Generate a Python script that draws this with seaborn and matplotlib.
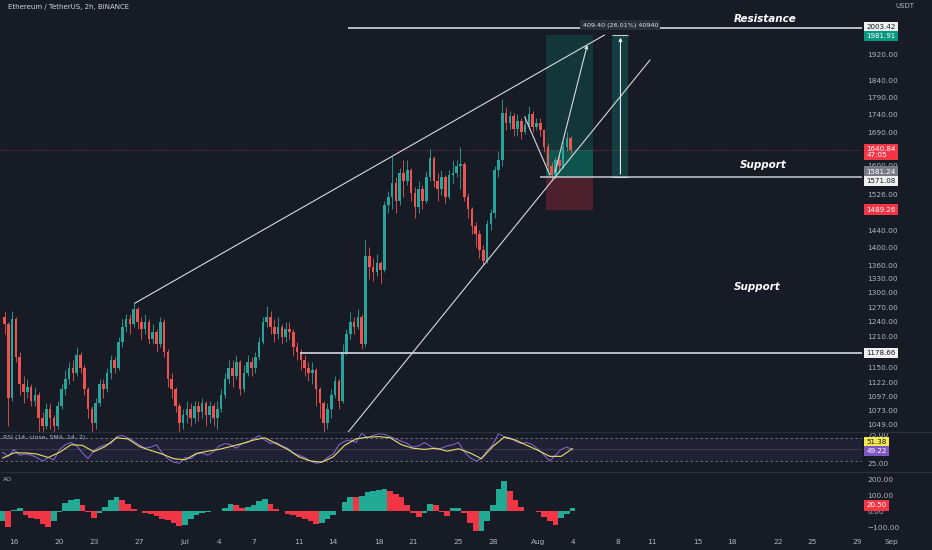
import numpy as np
import pandas as pd
import seaborn as sns
import matplotlib.pyplot as plt
from matplotlib.ticker import FixedLocator, NullLocator
from matplotlib.patches import Rectangle

# ETH/USDT, 8h candles from Jun 15 (day 0) to Aug 3 (day 49)
first_open = 1250
closes = [1235, 1095, 1245, 1170, 1120, 1105, 1115, 1090, 1100, 1060, 1045, 1075,
          1060, 1045, 1080, 1110, 1130, 1150, 1140, 1175, 1150, 1110, 1075, 1050,
          1085, 1120, 1110, 1140, 1165, 1150, 1200, 1230, 1245, 1235, 1265, 1240,
          1225, 1240, 1205, 1220, 1195, 1240, 1180, 1130, 1110, 1080, 1050, 1065,
          1075, 1060, 1080, 1070, 1085, 1065, 1080, 1060, 1075, 1100, 1130, 1150,
          1135, 1160, 1110, 1140, 1160, 1150, 1170, 1200, 1240, 1250, 1230, 1215,
          1230, 1210, 1225, 1220, 1190, 1180, 1165, 1150, 1140, 1145, 1110, 1085,
          1050, 1075, 1100, 1125, 1090, 1180, 1215, 1240, 1230, 1250, 1195, 1380,
          1355, 1345, 1365, 1350, 1500, 1520, 1555, 1510, 1580, 1560, 1590, 1530,
          1495, 1540, 1510, 1570, 1620, 1560, 1540, 1570, 1520, 1575, 1580, 1600,
          1605, 1520, 1490, 1450, 1430, 1395, 1370, 1455, 1480, 1590, 1615, 1745,
          1715, 1735, 1700, 1720, 1690, 1710, 1740, 1705, 1715, 1695, 1650, 1600,
          1575, 1615, 1600, 1650, 1675, 1640.84]
highs = [1262, 1240, 1262, 1250, 1180, 1135, 1130, 1120, 1115, 1105, 1070, 1085,
         1085, 1065, 1090, 1120, 1145, 1160, 1165, 1190, 1180, 1155, 1115, 1080,
         1095, 1130, 1130, 1150, 1175, 1170, 1210, 1245, 1255, 1255, 1280, 1270,
         1250, 1255, 1245, 1235, 1225, 1250, 1245, 1185, 1140, 1115, 1085, 1075,
         1090, 1085, 1090, 1090, 1095, 1090, 1090, 1085, 1090, 1110, 1140, 1165,
         1165, 1175, 1165, 1155, 1175, 1170, 1180, 1210, 1250, 1272, 1262, 1245,
         1250, 1235, 1240, 1240, 1225, 1200, 1185, 1175, 1160, 1160, 1150, 1115,
         1090, 1085, 1110, 1135, 1130, 1195, 1225, 1260, 1250, 1265, 1255, 1420,
         1400, 1375, 1385, 1370, 1510, 1535, 1625, 1570, 1595, 1615, 1615, 1595,
         1545, 1560, 1550, 1585, 1645, 1625, 1580, 1590, 1575, 1590, 1615, 1615,
         1650, 1610, 1530, 1495, 1460, 1440, 1405, 1465, 1490, 1600, 1640, 1785,
         1760, 1750, 1745, 1740, 1730, 1735, 1765, 1750, 1730, 1730, 1700, 1660,
         1610, 1625, 1630, 1665, 1690, 1680]
lows = [1215, 1045, 1090, 1160, 1100, 1085, 1095, 1080, 1080, 1035, 1030, 1040,
        1040, 1030, 1040, 1075, 1100, 1120, 1125, 1135, 1140, 1100, 1060, 1035,
        1040, 1080, 1095, 1105, 1130, 1140, 1145, 1190, 1220, 1215, 1230, 1225,
        1205, 1215, 1195, 1195, 1180, 1190, 1170, 1115, 1095, 1070, 1035, 1040,
        1050, 1045, 1050, 1055, 1060, 1045, 1050, 1045, 1040, 1070, 1095, 1120,
        1115, 1130, 1100, 1105, 1135, 1135, 1140, 1165, 1195, 1230, 1215, 1200,
        1205, 1195, 1200, 1205, 1175, 1165, 1145, 1135, 1125, 1120, 1080, 1060,
        1030, 1040, 1060, 1095, 1075, 1085, 1175, 1205, 1215, 1225, 1185, 1190,
        1330, 1325, 1335, 1320, 1345, 1480, 1490, 1480, 1500, 1520, 1550, 1510,
        1470, 1480, 1490, 1505, 1560, 1545, 1510, 1525, 1505, 1515, 1555, 1570,
        1540, 1510, 1470, 1430, 1400, 1375, 1360, 1365, 1440, 1470, 1570, 1600,
        1695, 1700, 1680, 1680, 1670, 1685, 1700, 1690, 1695, 1680, 1635, 1590,
        1560, 1565, 1580, 1595, 1640, 1630]

# RSI(14) every 12h and its SMA every day
rsi_vals = [45, 38, 50, 40, 42, 40, 36, 30, 36, 32, 50, 58, 62, 56, 44, 34, 48, 54,
            58, 60, 72, 74, 70, 64, 58, 52, 54, 58, 44, 34, 28, 26, 36, 34, 42, 44,
            40, 46, 56, 60, 58, 52, 60, 62, 68, 74, 66, 60, 62, 56, 52, 44, 40, 36,
            30, 26, 28, 36, 42, 58, 64, 66, 62, 78, 70, 74, 77, 76, 72, 68, 64, 60,
            54, 56, 62, 56, 50, 52, 56, 58, 62, 46, 36, 30, 34, 48, 58, 77, 72, 70,
            64, 60, 62, 58, 50, 40, 30, 40, 50, 54, 49.22]
rsi_ma = [35, 44, 44, 42, 36, 45, 58, 57, 46, 55, 70, 68, 55, 48, 42, 34, 32, 43,
          47, 50, 55, 60, 66, 70, 60, 50, 37, 30, 28, 37, 57, 68, 71, 72, 70, 58,
          52, 50, 52, 47, 51, 44, 34, 55, 71, 66, 57, 48, 38, 38, 51.38]

# Awesome Oscillator every 12h
ao_vals = [-60, -100, 10, 20, -25, -40, -50, -80, -100, -60, -5, 55, 75, 78, 40, -5,
           -40, -10, 25, 70, 91, 75, 50, 15, 0, -10, -15, -30, -45, -55, -70, -90,
           -85, -45, -20, -8, -3, 0, 5, 20, 50, 40, 20, 25, 40, 65, 78, 50, 15, 5,
           -15, -25, -35, -45, -60, -78, -70, -50, -25, 5, 60, 93, 92, 95, 120, 130,
           138, 140, 130, 110, 93, 40, -10, -35, -10, 50, 40, -5, -28, 20, 20, -10,
           -70, -120, -120, -60, 40, 140, 193, 130, 75, 30, 5, 0, -5, -35, -60, -88,
           -40, -15, 20.5]

price_ticks = [1920, 1840, 1790, 1740, 1690, 1600, 1526, 1440, 1400, 1360, 1330, 1300,
               1270, 1240, 1210, 1150, 1122, 1097, 1073, 1049]
date_ticks = [1, 5, 8, 12, 16, 19, 22, 26, 29, 33, 36, 40, 43, 47, 50, 54, 57, 61, 64,
              68, 71, 75]
date_labels = ["16", "20", "23", "27", "Jul", "4", "7", "11", "14", "18", "21", "25",
               "28", "Aug", "4", "8", "11", "15", "18", "22", "25", "29"]

resistance = 2003.42
support_hi = 1571.08
support_lo = 1178.66
target = 1981.91
stop = 1489.26
last_price = 1640.84

# drawings (day, price)
wedge_upper = ([11.6, 52.8], [1278, 1981])
wedge_lower = ([30.3, 56.8], [1035, 1902])
path_a = ([45.8, 48.0], [1733, 1576])
path_b = ([48.4, 51.35], [1576, 1958])
box_days = (47.67, 51.79)
measure_days = (53.5, 54.9)

bg = "#171b26"
green = "#26a69a"
red = "#ef5350"
txt = "#b2b5be"

sns.set_theme(style="dark", rc={
    "figure.facecolor": bg, "axes.facecolor": bg, "axes.edgecolor": bg,
    "axes.grid": False, "text.color": txt, "xtick.color": txt, "ytick.color": txt,
})
plt.rcParams["font.family"] = ["DejaVu Sans"]

W, H = 932, 550
fig = plt.figure(figsize=(W / 100, H / 100), dpi=100)


def pane(top, bottom):
    return [0, 1 - bottom / H, 862 / W, (bottom - top) / H]


ax = fig.add_axes(pane(0, 432))
ax_rsi = fig.add_axes(pane(432, 472), sharex=ax)
ax_ao = fig.add_axes(pane(472, 535), sharex=ax)

# candles
n = len(closes)
t = np.arange(n) / 3 + 1 / 6
opens = [first_open] + closes[:-1]
df = pd.DataFrame({"t": t, "open": opens, "close": closes, "high": highs, "low": lows})
df["up"] = df["close"] >= df["open"]
cols = np.where(df["up"], green, red)
ax.vlines(df["t"], df["low"], df["high"], colors=cols, lw=0.6, zorder=3)
body_lo = df[["open", "close"]].min(axis=1)
body_h = (df["close"] - df["open"]).abs().clip(lower=2)
ax.bar(df["t"], body_h, bottom=body_lo, width=0.22, color=cols, lw=0, zorder=3)

ax.set_yscale("log")
ax.set_ylim(1035.4, 2097.6)
ax.set_xlim(-0.23, 75.39)
ax.yaxis.tick_right()
ax.yaxis.set_major_locator(FixedLocator(price_ticks))
ax.yaxis.set_minor_locator(NullLocator())
ax.set_yticklabels([f"{v:.2f}" for v in price_ticks])
ax.tick_params(axis="y", length=0, pad=4, labelsize=5.3, colors=txt)
ax.tick_params(axis="x", length=0, labelbottom=False)
for a in (ax, ax_rsi, ax_ao):
    for s in a.spines.values():
        s.set_visible(False)

# horizontal levels
x_end = 75.39
ax.hlines(resistance, 30.3, x_end, color="#c8cad0", lw=1.3, zorder=4)
ax.hlines(support_hi, 47.1, x_end, color="#c8cad0", lw=1.1, zorder=4)
ax.hlines(support_lo, 26.1, x_end, color="#c8cad0", lw=1.3, zorder=4)
ax.axhline(last_price, color=red, lw=0.6, alpha=0.45, ls=(0, (1, 1)), zorder=2)

# wedge and path
ax.plot(*wedge_upper, color="#d8dade", lw=0.8, zorder=4)
ax.plot(*wedge_lower, color="#d8dade", lw=0.8, zorder=4)
ax.plot(*path_a, color="#d8dade", lw=0.8, zorder=4)
ax.annotate("", xy=(path_b[0][1], path_b[1][1]), xytext=(path_b[0][0], path_b[1][0]),
            arrowprops=dict(arrowstyle="-|>", color="#d8dade", lw=0.8,
                            mutation_scale=5), zorder=4)

# long position tool
bx0, bx1 = box_days
ax.add_patch(Rectangle((bx0, support_hi), bx1 - bx0, target - support_hi,
                       color="#089981", alpha=0.22, lw=0, zorder=1))
ax.add_patch(Rectangle((bx0, support_hi), bx1 - bx0, last_price - support_hi,
                       color="#089981", alpha=0.3, lw=0, zorder=1))
ax.add_patch(Rectangle((bx0, stop), bx1 - bx0, support_hi - stop,
                       color="#f23645", alpha=0.25, lw=0, zorder=1))

# measure tool
mx0, mx1 = measure_days
ax.add_patch(Rectangle((mx0, support_hi), mx1 - mx0, target - support_hi,
                       color="#089981", alpha=0.28, lw=0, zorder=1))
mx = (mx0 + mx1) / 2
ax.annotate("", xy=(mx, target), xytext=(mx, support_hi),
            arrowprops=dict(arrowstyle="-|>", color="#e6e7ea", lw=0.8,
                            mutation_scale=5), zorder=4)
ax.hlines([target, support_hi], mx0, mx1, color="#c8cad0", lw=0.8, zorder=4)
ax.text(mx, 2013, "409.40 (26.01%) 40940", fontsize=4.6, color="#e0e2e6",
        ha="center", va="center", zorder=6,
        bbox=dict(boxstyle="square,pad=0.35", fc="#2a2e39", ec="none"))

# labels
lab = dict(color="white", fontsize=7.5, fontstyle="italic", fontweight="bold",
           ha="center", va="center", zorder=6)
ax.text(66.9, 2033, "Resistance", **lab)
ax.text(66.7, 1603, "Support", **lab)
ax.text(66.2, 1312, "Support", **lab)

fig.text(8 / W, 1 - 7 / H, "Ethereum / TetherUS, 2h, BINANCE", fontsize=5,
         color="#d1d4dc", va="center")
fig.text(905 / W, 1 - 6 / H, "USDT", fontsize=5, color=txt, ha="center", va="center")


def tag(a, y, s, fc, tc, dy=0):
    a.annotate(s, xy=(1.0, y), xycoords=a.get_yaxis_transform(), xytext=(3, dy),
               textcoords="offset points", ha="left", va="center", fontsize=5.1,
               color=tc, annotation_clip=False, zorder=10, linespacing=1.0,
               bbox=dict(boxstyle="square,pad=0.3", fc=fc, ec="none"))


tag(ax, resistance, "2003.42", "#f0f0f0", "#131722", dy=1)
tag(ax, target, "1981.91", "#089981", "white", dy=-1)
tag(ax, last_price, "1640.84\n47:05", "#f23645", "white", dy=-1.5)
tag(ax, 1581.24, "1581.24", "#787b86", "white", dy=1)
tag(ax, support_hi, "1571.08", "#f0f0f0", "#131722", dy=-3)
tag(ax, stop, "1489.26", "#f23645", "white")
tag(ax, support_lo, "1178.66", "#f0f0f0", "#131722")

# RSI pane
t_half = np.arange(len(rsi_vals)) * 0.5
t_day = np.arange(len(rsi_ma)) * 1.0
ax_rsi.axhspan(30, 70, color="#7e57c2", alpha=0.1, lw=0)
ax_rsi.axhline(70, color="#787b86", lw=0.6, ls=(0, (3, 3)))
ax_rsi.axhline(30, color="#787b86", lw=0.6, ls=(0, (3, 3)))
ax_rsi.axhline(50, color="#787b86", lw=0.5, alpha=0.4)
sns.lineplot(x=t_half, y=rsi_vals, color="#8a6ad6", lw=0.7, ax=ax_rsi)
sns.lineplot(x=t_day, y=rsi_ma, color="#e8df6a", lw=0.8, ax=ax_rsi)
ax_rsi.set_ylim(11, 80)
ax_rsi.yaxis.tick_right()
ax_rsi.set_yticks([75, 25])
ax_rsi.set_yticklabels(["75.00", "25.00"])
ax_rsi.tick_params(axis="y", length=0, pad=4, labelsize=5.3, colors=txt)
ax_rsi.tick_params(axis="x", length=0, labelbottom=False)
ax_rsi.text(0.004, 0.87, "RSI (14, close, SMA, 14, 2)", transform=ax_rsi.transAxes,
            fontsize=4.5, color=txt, va="center")
tag(ax_rsi, 62, "51.38", "#f2e94e", "#131722")
tag(ax_rsi, 50, "49.22", "#7e57c2", "white", dy=-1)

# AO pane
ao = np.array(ao_vals)
ao_up = np.diff(ao, prepend=ao[0]) >= 0
ax_ao.bar(t_half[:len(ao)], ao, width=0.5, color=np.where(ao_up, "#22ab94", "#f23645"),
          lw=0)
ax_ao.set_ylim(-148, 248)
ax_ao.yaxis.tick_right()
ax_ao.set_yticks([200, 100, 0, -100])
ax_ao.set_yticklabels(["200.00", "100.00", "0.00", "\u2212100.00"])
ax_ao.tick_params(axis="y", length=0, pad=4, labelsize=5.3, colors=txt)
ax_ao.text(0.004, 0.88, "AO", transform=ax_ao.transAxes, fontsize=4.5, color=txt,
           va="center")
tag(ax_ao, 20.5, "20.50", "#f23645", "white", dy=2)

ax_ao.xaxis.set_major_locator(FixedLocator(date_ticks))
ax_ao.set_xticklabels(date_labels)
ax_ao.tick_params(axis="x", length=0, pad=3, labelsize=5.3, colors=txt)
ax_ao.text(78, -0.06, "Sep", transform=ax_ao.get_xaxis_transform(), fontsize=5.3,
           color=txt, ha="center", va="top", clip_on=False)
ax_ao.set_xlabel("")
ax_rsi.set_xlabel("")

# pane separators
for yy in (432, 472):
    fig.add_artist(plt.Line2D([0, 1], [1 - yy / H] * 2, color="#2a2e39", lw=1))

fig.savefig("out.png", dpi=100, facecolor=bg)
